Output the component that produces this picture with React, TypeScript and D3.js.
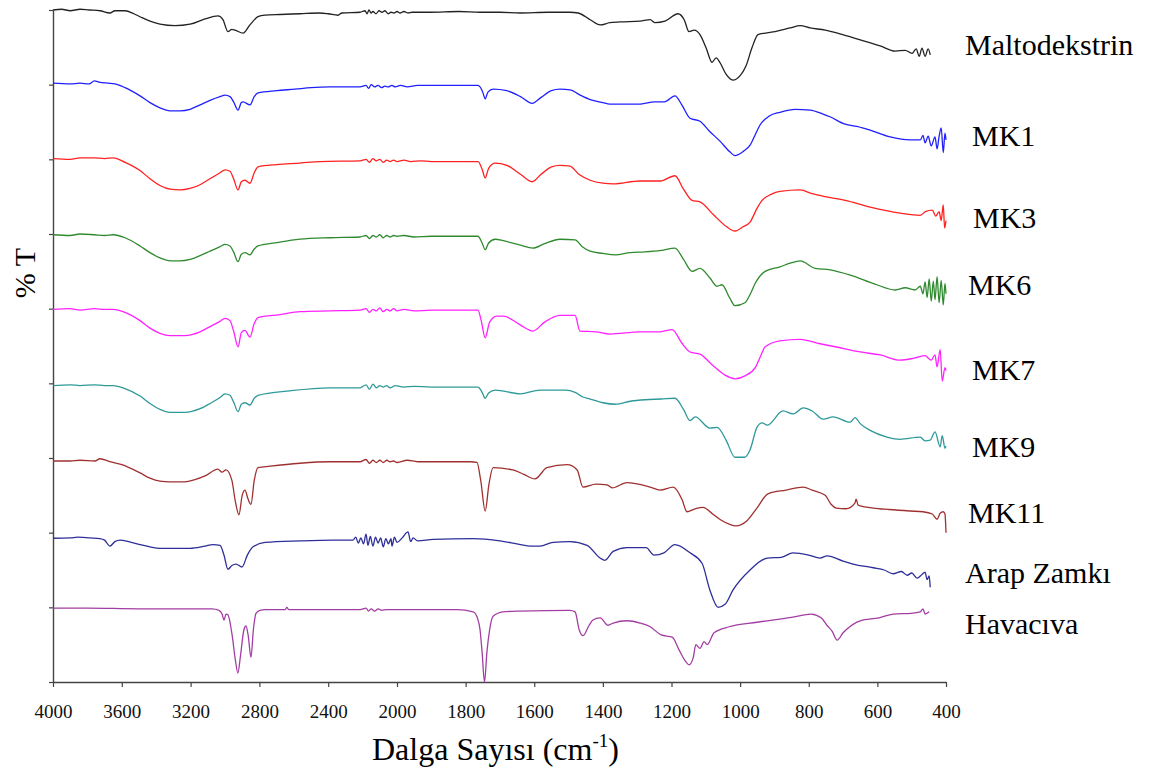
import { useEffect, useRef } from 'react';
import * as d3 from 'd3';

const W = 1155;
const H = 773;

// wavenumber (cm-1) vs relative %T (shift from each trace's offset)
const maltodekstrin: [number, number][] = [
  [4000, 0], [3950, 0.1], [3900, -0.1], [3843, 0.1], [3790, 0], [3727, -0.1], [3669, -0.4], [3640, -0.1], [3581, -0.1],
  [3530, -0.5], [3494, -0.9], [3436, -1.5], [3378, -1.9], [3291, -2.1], [3203, -1.9], [3116, -1.2], [3041, -0.8],
  [3012, -1.3], [2983, -2.9], [2960, -2.6], [2942, -2.7], [2895, -3.1], [2855, -2.0], [2808, -0.9], [2767, -0.7],
  [2680, -0.6], [2564, -0.5], [2450, -0.4], [2400, -0.5], [2343, -0.7], [2320, -0.4], [2215, -0.3], [2186, -0.1],
  [2174, -0.5], [2163, 0.0], [2151, -0.4], [2140, -0.2], [2122, -0.5], [2105, -0.1], [2087, -0.3], [2070, -0.1],
  [2052, -0.5], [2035, -0.3], [2017, -0.4], [2000, -0.2], [1991, -0.4], [1980, -0.2], [1968, -0.4], [1956, -0.3],
  [1939, -0.3], [1904, -0.3], [1820, -0.2], [1758, -0.3], [1700, -0.3], [1641, -0.4], [1560, -0.3], [1496, -0.3],
  [1472, -0.4], [1437, -1.3], [1408, -2.0], [1380, -1.7], [1350, -1.6], [1292, -1.5], [1262, -1.3], [1248, -1.7],
  [1219, -1.5], [1181, -0.5], [1163, -1.3], [1149, -2.9], [1134, -2.7], [1117, -3.3], [1099, -5.1], [1082, -7.0],
  [1070, -6.4], [1058, -7.1], [1041, -8.6], [1021, -9.4], [1000, -8.8], [983, -7.5], [965, -5.0], [948, -3.3],
  [927, -3.1], [898, -2.9], [854, -2.4], [825, -2.1], [796, -2.4], [752, -2.7], [709, -3.2], [650, -4.0], [592, -4.8],
  [548, -5.5], [519, -5.4], [499, -5.8], [487, -5.2], [478, -6.2], [470, -5.1], [461, -6.2], [452, -5.2], [446, -6.0],
];

const mk1: [number, number][] = [
  [4000, 0.2], [3900, 0.1], [3843, 0.2], [3790, 0.1], [3760, 0.5], [3727, 0.3], [3680, 0.2], [3640, 0.1], [3581, -0.4],
  [3494, -1.5], [3436, -2.4], [3378, -3.1], [3320, -3.5], [3262, -3.5], [3203, -3.3], [3145, -2.7], [3087, -2.1],
  [3029, -1.6], [3000, -1.4], [2971, -1.6], [2950, -2.3], [2924, -3.4], [2905, -2.4], [2895, -2.3], [2855, -2.7],
  [2830, -1.6], [2808, -1.1], [2700, -0.8], [2593, -0.6], [2500, -0.4], [2390, -0.3], [2215, -0.3], [2180, -0.1],
  [2165, -0.5], [2150, 0.0], [2130, -0.3], [2110, -0.1], [2090, -0.4], [2070, -0.2], [2050, -0.3], [2030, -0.1],
  [2010, -0.3], [1990, -0.1], [1970, -0.3], [1940, -0.1], [1900, -0.1], [1800, -0.1], [1764, -0.1], [1750, -1.0],
  [1743, -1.9], [1735, -1.0], [1720, -0.6], [1680, -0.8], [1640, -1.6], [1606, -2.5], [1580, -1.7], [1550, -0.8],
  [1525, -0.6], [1495, -0.7], [1470, -1.3], [1437, -2.0], [1400, -2.4], [1380, -2.6], [1290, -2.6], [1250, -2.3],
  [1220, -2.3], [1190, -1.5], [1170, -2.7], [1146, -4.5], [1117, -4.9], [1090, -6.2], [1058, -7.6], [1030, -9.0],
  [1015, -9.5], [990, -8.9], [971, -8.1], [955, -6.6], [942, -5.4], [915, -4.2], [884, -3.7], [840, -3.3], [796, -3.4],
  [760, -3.9], [738, -4.3], [694, -5.3], [660, -5.6], [621, -6.1], [563, -7.0], [505, -7.4], [475, -7.4], [467, -6.8],
  [461, -7.8], [452, -6.9], [443, -8.2], [432, -7.0], [426, -8.6], [420, -6.9], [414, -5.8], [408, -9.1], [403, -6.5],
  [400, -7.4],
];

const mk3: [number, number][] = [
  [4000, 0.1], [3900, 0.0], [3843, 0.2], [3760, 0.2], [3700, 0.1], [3650, 0.2], [3581, -0.4], [3494, -1.5],
  [3436, -2.6], [3378, -3.5], [3320, -4.0], [3262, -4.1], [3203, -3.9], [3145, -3.4], [3087, -2.6], [3029, -1.8],
  [3000, -1.4], [2971, -1.6], [2950, -2.6], [2924, -4.1], [2905, -3.0], [2884, -2.8], [2855, -3.2], [2830, -1.8],
  [2808, -1.0], [2700, -0.7], [2564, -0.5], [2448, -0.3], [2215, -0.2], [2180, 0.0], [2160, -0.4], [2140, 0.1],
  [2120, -0.2], [2100, 0.0], [2080, -0.4], [2060, -0.1], [2040, -0.3], [2020, -0.1], [2000, -0.3], [1980, -0.1],
  [1960, -0.3], [1930, -0.2], [1900, -0.3], [1764, -0.3], [1752, -1.3], [1743, -2.5], [1733, -1.2], [1714, -0.5],
  [1680, -0.8], [1640, -2.0], [1606, -3.0], [1580, -2.0], [1550, -1.0], [1525, -0.8], [1496, -0.9], [1470, -2.0],
  [1437, -2.8], [1400, -3.2], [1370, -3.3], [1292, -2.9], [1233, -2.9], [1190, -2.2], [1165, -4.0], [1140, -5.5],
  [1117, -5.7], [1076, -7.5], [1040, -9.0], [1015, -9.6], [990, -9.0], [971, -8.4], [950, -6.5], [936, -5.5],
  [910, -4.7], [884, -4.3], [825, -4.1], [790, -4.6], [752, -5.0], [694, -5.5], [621, -6.4], [534, -7.2], [475, -7.5],
  [460, -7.0], [440, -6.8], [430, -7.6], [420, -7.0], [414, -8.2], [408, -6.1], [404, -9.2], [400, -8.2],
];

const mk6: [number, number][] = [
  [4000, -0.1], [3900, -0.2], [3843, 0.0], [3760, -0.1], [3700, -0.2], [3651, -0.1], [3581, -0.5], [3494, -1.6],
  [3436, -2.5], [3378, -3.2], [3320, -3.6], [3262, -3.6], [3203, -3.4], [3145, -2.9], [3087, -2.3], [3029, -1.7],
  [3000, -1.4], [2971, -1.6], [2950, -2.4], [2924, -3.7], [2905, -2.7], [2884, -2.5], [2855, -2.8], [2830, -2.0],
  [2808, -1.6], [2709, -1.2], [2564, -0.7], [2390, -0.5], [2215, -0.4], [2180, -0.2], [2160, -0.6], [2140, -0.2],
  [2120, -0.4], [2100, -0.1], [2080, -0.5], [2060, -0.2], [2040, -0.4], [2020, -0.2], [2000, -0.3], [1980, -0.2],
  [1950, -0.4], [1900, -0.3], [1764, -0.3], [1752, -1.2], [1743, -2.1], [1733, -1.2], [1714, -0.7], [1690, -0.9],
  [1640, -1.5], [1604, -1.9], [1570, -1.3], [1525, -0.7], [1481, -0.8], [1460, -1.7], [1437, -2.3], [1400, -2.6],
  [1364, -2.8], [1320, -2.5], [1277, -2.4], [1230, -2.2], [1190, -1.9], [1165, -3.4], [1140, -5.0], [1117, -4.6],
  [1088, -5.9], [1067, -7.0], [1053, -6.8], [1030, -8.6], [1015, -9.6], [986, -9.2], [970, -8.0], [956, -6.6],
  [927, -5.0], [884, -4.4], [854, -3.9], [825, -3.6], [781, -4.6], [738, -4.8], [679, -5.5], [607, -6.7], [548, -7.5],
  [519, -7.2], [490, -7.5], [475, -7.0], [467, -8.0], [461, -6.4], [455, -8.5], [449, -6.0], [443, -9.0], [437, -6.3],
  [432, -8.8], [426, -5.7], [420, -9.2], [414, -6.2], [408, -9.5], [403, -6.6], [400, -8.0],
];

const mk7: [number, number][] = [
  [4000, -0.1], [3900, 0.0], [3843, -0.2], [3760, 0.0], [3700, -0.1], [3651, -0.1], [3581, -0.5], [3494, -1.6],
  [3436, -2.6], [3378, -3.3], [3320, -3.6], [3233, -3.6], [3145, -3.1], [3087, -2.4], [3029, -1.7], [3000, -1.3],
  [2971, -1.6], [2950, -3.0], [2924, -5.1], [2905, -3.2], [2884, -2.9], [2855, -3.8], [2830, -2.0], [2808, -1.2],
  [2680, -0.8], [2564, -0.4], [2390, -0.3], [2215, -0.2], [2180, 0.0], [2160, -0.5], [2140, -0.1], [2120, -0.3],
  [2100, 0.1], [2080, -0.4], [2060, -0.1], [2040, -0.3], [2020, 0.0], [2000, -0.3], [1980, -0.1], [1950, -0.3],
  [1900, -0.2], [1764, -0.2], [1755, -1.5], [1743, -3.9], [1730, -1.8], [1709, -1.0], [1690, -1.0], [1640, -2.2],
  [1604, -3.0], [1570, -1.8], [1525, -0.9], [1481, -0.9], [1467, -3.0], [1420, -3.1], [1379, -3.4], [1292, -3.1],
  [1233, -3.1], [1198, -2.8], [1170, -4.6], [1146, -5.8], [1117, -6.1], [1082, -7.5], [1044, -8.9], [1015, -9.4],
  [986, -9.0], [956, -7.9], [940, -6.3], [927, -5.1], [884, -4.3], [825, -4.1], [767, -4.7], [723, -5.1], [650, -5.8],
  [592, -6.2], [534, -6.9], [490, -6.6], [461, -6.3], [443, -6.9], [432, -6.2], [426, -7.8], [417, -5.5], [411, -9.7],
  [403, -7.9], [400, -8.3],
];

const mk9: [number, number][] = [
  [4000, -0.3], [3900, -0.2], [3843, -0.3], [3760, -0.2], [3700, -0.3], [3651, -0.3], [3581, -0.7], [3494, -1.7],
  [3436, -2.7], [3378, -3.5], [3320, -3.9], [3233, -3.9], [3145, -3.4], [3087, -2.7], [3029, -1.9], [3000, -1.4],
  [2971, -1.6], [2950, -2.5], [2924, -3.8], [2905, -2.8], [2884, -2.6], [2855, -2.9], [2830, -2.0], [2808, -1.6],
  [2622, -1.0], [2390, -0.6], [2215, -0.6], [2180, -0.2], [2160, -0.8], [2140, -0.1], [2120, -0.6], [2100, -0.3],
  [2080, -0.5], [2060, -0.3], [2040, -0.6], [2010, -0.3], [1980, -0.5], [1950, -0.4], [1900, -0.5], [1764, -0.5],
  [1752, -1.2], [1743, -2.0], [1733, -1.3], [1714, -0.9], [1641, -1.4], [1583, -0.9], [1510, -0.9], [1481, -1.2],
  [1460, -1.8], [1437, -2.1], [1400, -2.6], [1364, -2.8], [1320, -2.4], [1277, -2.2], [1230, -2.1], [1190, -2.0],
  [1165, -3.5], [1146, -5.0], [1131, -4.5], [1088, -6.0], [1067, -5.9], [1041, -7.6], [1015, -9.9], [986, -9.9],
  [971, -8.9], [951, -5.9], [936, -5.3], [921, -5.6], [875, -3.7], [846, -4.1], [816, -3.3], [790, -3.7], [758, -4.8],
  [729, -4.5], [679, -5.2], [665, -4.6], [650, -5.4], [621, -6.3], [572, -7.2], [534, -7.5], [475, -7.2], [461, -7.7],
  [446, -7.6], [432, -6.5], [417, -8.5], [411, -7.0], [403, -8.7], [400, -8.4],
];

const mk11: [number, number][] = [
  [4000, -0.4], [3900, -0.4], [3843, -0.3], [3756, -0.4], [3727, -0.1], [3669, -0.5], [3600, -0.9], [3494, -2.0],
  [3436, -2.7], [3378, -3.1], [3320, -3.2], [3233, -3.2], [3175, -2.9], [3116, -2.4], [3041, -1.5], [3017, -1.9],
  [2994, -1.6], [2960, -3.0], [2940, -5.8], [2919, -7.6], [2900, -5.0], [2884, -4.3], [2866, -5.5], [2849, -6.2],
  [2830, -3.0], [2808, -1.3], [2738, -1.1], [2564, -0.7], [2390, -0.5], [2215, -0.5], [2180, -0.2], [2160, -0.7],
  [2140, -0.3], [2120, -0.6], [2100, -0.3], [2080, -0.6], [2060, -0.3], [2040, -0.5], [2020, -0.4], [2000, -0.6],
  [1970, -0.3], [1940, -0.5], [1900, -0.5], [1787, -0.5], [1767, -0.6], [1756, -3.0], [1743, -7.1], [1732, -3.5],
  [1720, -1.3], [1662, -1.6], [1630, -2.2], [1598, -2.8], [1563, -1.3], [1504, -0.9], [1475, -1.6], [1458, -3.9],
  [1420, -3.5], [1388, -3.6], [1373, -4.0], [1330, -3.3], [1262, -3.9], [1233, -4.3], [1195, -3.9], [1169, -5.6],
  [1155, -7.2], [1131, -6.8], [1108, -6.6], [1080, -7.5], [1056, -8.3], [1030, -8.9], [1012, -9.1], [980, -8.4],
  [951, -6.7], [919, -4.8], [866, -4.3], [816, -3.9], [790, -4.3], [752, -5.0], [735, -6.2], [720, -6.7], [691, -6.8],
  [665, -6.0], [662, -5.5], [656, -6.3], [612, -6.7], [566, -6.9], [505, -7.1], [467, -7.2], [440, -7.5], [426, -8.2],
  [417, -7.4], [408, -7.2], [403, -7.5], [400, -10.0],
];

const arapZamki: [number, number][] = [
  [4000, -0.75], [3900, -0.7], [3855, -0.6], [3785, -0.7], [3727, -0.8], [3700, -1.0], [3669, -1.8], [3640, -1.2],
  [3610, -1.0], [3560, -1.2], [3494, -1.6], [3436, -1.9], [3378, -2.1], [3300, -2.1], [3203, -2.1], [3116, -1.8],
  [3070, -1.6], [3029, -1.7], [3006, -3.0], [2983, -4.9], [2960, -4.4], [2936, -4.2], [2901, -4.6], [2870, -3.0],
  [2837, -1.9], [2767, -1.3], [2564, -1.1], [2372, -1.0], [2256, -1.0], [2240, -0.6], [2225, -1.4], [2210, -0.7],
  [2195, -1.5], [2180, -0.2], [2169, -1.7], [2155, -0.5], [2140, -1.8], [2125, -0.6], [2110, -1.4], [2095, -0.7],
  [2080, -1.9], [2065, -0.8], [2050, -1.5], [2035, -0.8], [2029, -1.8], [2015, -0.6], [2000, -1.3], [1985, -0.7],
  [1968, 0.1], [1960, -1.2], [1953, -0.7], [1940, -1.1], [1895, -0.9], [1778, -0.8], [1700, -1.1], [1640, -1.6],
  [1612, -1.8], [1583, -1.8], [1545, -1.3], [1496, -1.2], [1446, -1.7], [1408, -3.4], [1394, -3.7], [1370, -2.5],
  [1330, -2.0], [1274, -2.0], [1251, -3.0], [1222, -2.7], [1190, -1.6], [1146, -2.7], [1111, -4.1], [1088, -7.7],
  [1064, -10.0], [1044, -9.6], [1021, -7.7], [971, -5.0], [921, -3.4], [880, -3.3], [846, -2.7], [800, -3.0],
  [767, -3.4], [746, -3.1], [700, -3.8], [671, -4.2], [612, -4.7], [580, -5.0], [554, -5.5], [530, -5.2], [513, -5.7],
  [500, -5.4], [484, -6.1], [470, -5.6], [461, -5.3], [455, -6.3], [449, -5.8], [446, -7.3],
];

const havaciva: [number, number][] = [
  [4000, -0.1], [3800, -0.1], [3500, -0.2], [3200, -0.2], [3076, -0.2], [3035, -0.4], [3017, -0.9], [3006, -1.7],
  [2994, -0.9], [2983, -1.0], [2960, -3.5], [2940, -7.0], [2925, -8.8], [2910, -6.5], [2890, -3.0], [2878, -2.5],
  [2865, -3.8], [2849, -6.7], [2835, -3.0], [2820, -0.8], [2797, -0.4], [2767, -0.3], [2650, -0.3], [2640, 0.0],
  [2630, -0.3], [2400, -0.3], [2215, -0.3], [2180, -0.1], [2165, -0.5], [2150, -0.2], [2130, -0.5], [2110, -0.2],
  [2090, -0.4], [2060, -0.3], [1990, -0.3], [1825, -0.3], [1778, -0.6], [1765, -1.5], [1758, -3.0], [1752, -6.0],
  [1745, -10.0], [1738, -6.0], [1730, -3.0], [1720, -1.2], [1691, -0.6], [1641, -0.5], [1496, -0.4], [1481, -0.6],
  [1469, -3.0], [1458, -3.8], [1440, -2.4], [1429, -1.7], [1408, -1.4], [1385, -2.4], [1370, -2.1], [1330, -1.8],
  [1292, -2.1], [1262, -2.6], [1230, -3.7], [1198, -4.0], [1178, -5.7], [1158, -7.3], [1149, -7.7], [1137, -6.8],
  [1129, -5.0], [1117, -5.5], [1105, -4.6], [1096, -5.0], [1076, -3.4], [1032, -2.6], [951, -2.0], [846, -1.3],
  [793, -0.9], [764, -1.4], [745, -2.5], [732, -3.2], [717, -4.4], [700, -3.4], [691, -3.0], [650, -1.8], [595, -1.4],
  [554, -0.9], [502, -0.8], [475, -0.6], [467, -0.2], [461, -0.9], [449, -0.6],
];

const spectra = [maltodekstrin, mk1, mk3, mk6, mk7, mk9, mk11, arapZamki, havaciva];
const seriesNames = ['Maltodekstrin', 'MK1', 'MK3', 'MK6', 'MK7', 'MK9', 'MK11', 'Arap Zamkı', 'Havacıva'];
const seriesOffsets = [90, 80, 70, 60, 50, 40, 30, 20, 10];
const xTicks = [4000, 3600, 3200, 2800, 2400, 2000, 1800, 1600, 1400, 1200, 1000, 800, 600, 400];
const yTicks = [0, 10, 20, 30, 40, 50, 60, 70, 80, 90];

const colors = ['#222222', '#2020ff', '#ff2020', '#2f8a2f', '#ff22ff', '#2f9999', '#a03030', '#2e2e98', '#a23ea2'];
// label placement (px) relative to each trace's baseline
const labelX = [965, 972, 973, 968, 972, 972, 968, 965, 965];
const labelDy = [45, 61, 69, 61, 71, 74, 65, 50, 27];

const serif = '"Liberation Serif", "Times New Roman", serif';

export default function App() {
  const ref = useRef<SVGSVGElement>(null);

  useEffect(() => {
    const svg = d3.select(ref.current);
    svg.selectAll('*').remove();

    // FTIR style axis: scale doubles below 2000 cm-1
    const x = d3.scaleLinear().domain([4000, 2000, 400]).range([53, 397, 946]);
    const y = d3.scaleLinear().domain([0, 90]).range([682, 10]);

    const xAxis = svg.append('g')
      .attr('transform', 'translate(0,682)')
      .call(d3.axisBottom(x).tickValues(xTicks).tickSize(5).tickSizeOuter(0).tickPadding(18).tickFormat(d3.format('d')));
    xAxis.select('.domain').attr('stroke', '#444').attr('stroke-width', 1.4);
    xAxis.selectAll('.tick line').attr('stroke', '#444').attr('stroke-width', 1.2);
    xAxis.selectAll('.tick text')
      .attr('font-family', serif)
      .attr('font-size', 19)
      .attr('fill', '#111');

    const yAxis = svg.append('g')
      .attr('transform', 'translate(53,0)')
      .call(d3.axisLeft(y).tickValues(yTicks).tickSize(4).tickSizeOuter(0).tickFormat(() => ''));
    yAxis.select('.domain').attr('stroke', '#444').attr('stroke-width', 1.4);
    yAxis.selectAll('.tick line').attr('stroke', '#444').attr('stroke-width', 1.2);

    spectra.forEach((data, i) => {
      const off = seriesOffsets[i];
      const line = d3.line<[number, number]>()
        .x(d => x(d[0]))
        .y(d => y(off + d[1]))
        .curve(d3.curveMonotoneX);

      svg.append('path')
        .datum(data)
        .attr('d', line)
        .attr('fill', 'none')
        .attr('stroke', colors[i])
        .attr('stroke-width', 1.3)
        .attr('stroke-linejoin', 'round');

      svg.append('text')
        .attr('x', labelX[i])
        .attr('y', y(off) + labelDy[i])
        .attr('font-family', serif)
        .attr('font-size', 30)
        .attr('fill', '#000')
        .text(seriesNames[i]);
    });

    svg.append('text')
      .attr('transform', 'translate(35,273) rotate(-90)')
      .attr('text-anchor', 'middle')
      .attr('font-family', serif)
      .attr('font-size', 30)
      .attr('fill', '#000')
      .text('% T');

    const title = svg.append('text')
      .attr('x', 372)
      .attr('y', 760)
      .attr('font-family', serif)
      .attr('font-size', 32)
      .attr('fill', '#000');
    title.append('tspan').text('Dalga Sayısı (cm');
    title.append('tspan').attr('font-size', 19).attr('dy', -13).text('-1');
    title.append('tspan').attr('dy', 13).text(')');
  }, []);

  return (
    <svg
      ref={ref}
      width={W}
      height={H}
      style={{ position: 'absolute', left: 0, top: 0, background: '#fff' }}
    />
  );
}
